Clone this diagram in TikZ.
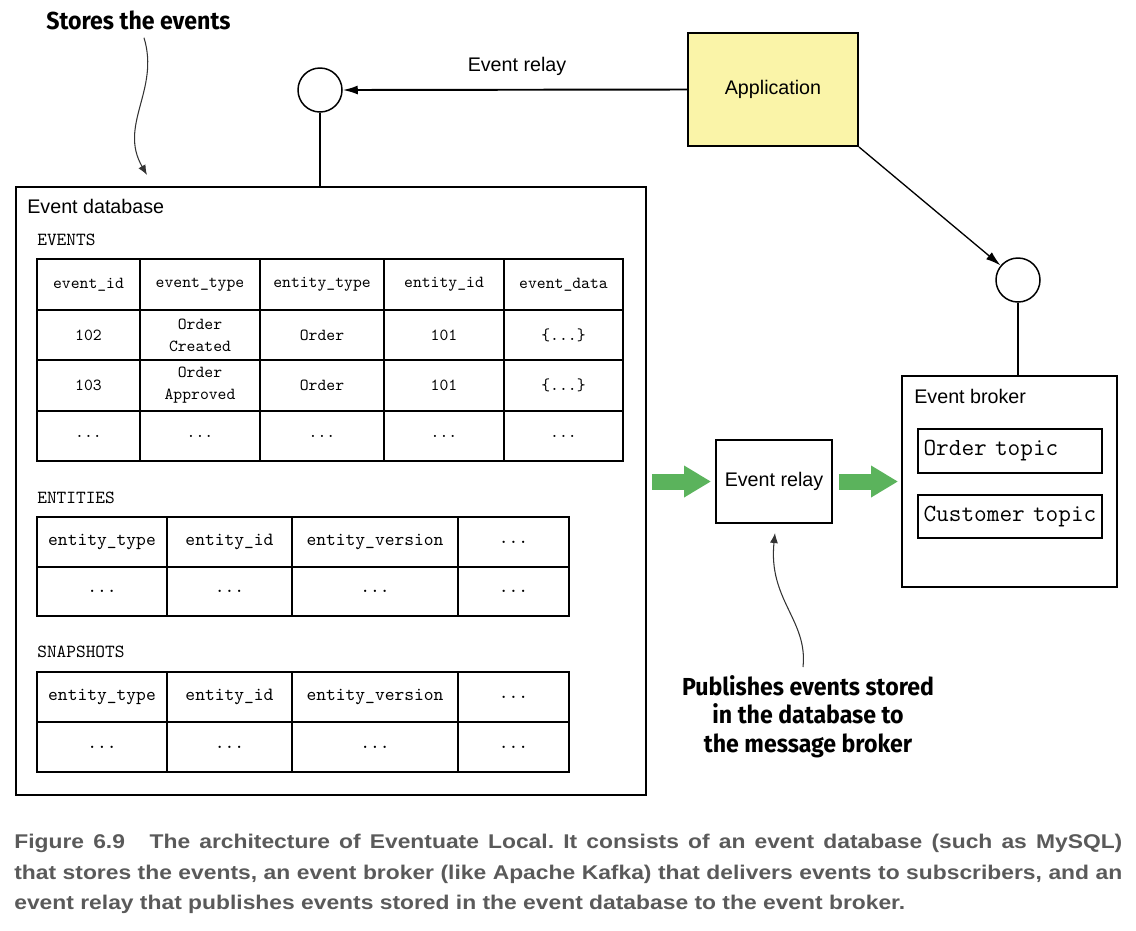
\documentclass[tikz,border=0pt]{standalone}
\usepackage{fontspec}
\setmainfont{Liberation Sans}
\newfontfamily\annotfont[FakeStretch=0.94]{Fira Sans}
\newfontfamily\capfont[FakeStretch=1.15]{Liberation Sans}
\usetikzlibrary{arrows.meta}
\tikzset{>=latex}
\definecolor{appyellow}{HTML}{FAF4A8}
\definecolor{relaygreen}{HTML}{5BB35C}
\definecolor{capgray}{HTML}{5A5A5A}
\definecolor{annotgray}{HTML}{333333}
\newcommand{\celldots}{...}
\newcommand{\capline}[1]{\makebox[221.6mm][s]{#1}}
\frenchspacing
\tikzset{box/.style={draw,line width=1.1pt,inner sep=0pt,font=\fontsize{11.2pt}{13.4pt}\selectfont},
  boxtitle/.style={inner sep=0pt,anchor=base west,font=\fontsize{11.2pt}{13.4pt}\selectfont},
  tablename/.style={inner sep=0pt,anchor=base west,font=\fontsize{10.5pt}{12pt}\ttfamily},
  hole/.style={circle,draw,line width=0.85pt,minimum size=8.8mm,inner sep=0pt},
  cell/.style={draw,line width=1.1pt,align=center,inner sep=0pt,font=\fontsize{9.6pt}{12.6pt}\ttfamily},
  bigcell/.style={cell,font=\fontsize{10.6pt}{12.6pt}\ttfamily},
  topic/.style={draw,line width=1.1pt,minimum width=36.8mm,text width=34.6mm,inner xsep=1.1mm,inner ysep=0pt,align=left,font=\fontsize{14pt}{15pt}\ttfamily},
  link/.style={line width=1.1pt},
  linkarrow/.style={line width=1.1pt,-{Latex[length=3mm,width=1.8mm]}},
  thinarrow/.style={line width=0.75pt,-{Latex[length=3mm,width=1.8mm]}},
  bigarrow/.style={draw=relaygreen,line width=3.2mm,-{Triangle[length=5.4mm,width=6mm]}},
  annot/.style={inner sep=0pt,align=center,font=\fontsize{14pt}{16.2pt}\annotfont\bfseries},
  annotarrow/.style={draw=annotgray,line width=0.6pt,-{Latex[length=2mm,width=1.6mm]}},
  captext/.style={inner sep=0pt,align=left,text=capgray,font=\fontsize{11.3pt}{17.3pt}\capfont\bfseries}}
\begin{document}
\begin{tikzpicture}[x=0.2mm,y=-0.2mm]
\useasboundingbox (0,0) rectangle (1136,930);

\node[box,minimum width=126mm,minimum height=121.6mm] (db) at (331,491) {};
\node[boxtitle] (dbname) at (27,213) {Event database};
\node[tablename] (eventsname) at (37,245) {EVENTS};
\node[tablename] (entitiesname) at (37,503) {ENTITIES};
\node[tablename] (snapshotsname) at (37,657) {SNAPSHOTS};

\foreach \x/\w/\a/\b/\c [count=\i] in {88.5/20.6/event\_id/102/103,
    200/24/event\_type/{Order\\Created}/{Order\\Approved},
    322/24.8/entity\_type/Order/Order,
    444/24/entity\_id/101/101,
    563.5/23.8/event\_data/{\{\celldots\}}/{\{\celldots\}}}
{
  \node[cell,minimum width=\w mm,minimum height=10.2mm] (ev\i a) at (\x,284.5) {\a};
  \node[cell,minimum width=\w mm,minimum height=10mm] (ev\i b) at (\x,335) {\b};
  \node[cell,minimum width=\w mm,minimum height=10.2mm] (ev\i c) at (\x,385.5) {\c};
  \node[cell,minimum width=\w mm,minimum height=10mm] (ev\i d) at (\x,436) {\celldots};
}

\foreach \x/\w/\a [count=\i] in {102/26/entity\_type, 229.5/25/entity\_id,
    375/33.2/entity\_version, 513.5/22.2/\celldots}
{
  \node[bigcell,minimum width=\w mm,minimum height=10mm] (en\i a) at (\x,542) {\a};
  \node[bigcell,minimum width=\w mm,minimum height=9.8mm] (en\i b) at (\x,591.5) {\celldots};
  \node[bigcell,minimum width=\w mm,minimum height=10mm] (sn\i a) at (\x,697) {\a};
  \node[bigcell,minimum width=\w mm,minimum height=10mm] (sn\i b) at (\x,747) {\celldots};
}

\node[box,fill=appyellow,minimum width=34mm,minimum height=22.6mm] (app) at (773,89.5) {Application};
\node[hole] (dbhole) at (320,90) {};
\node[hole] (brokerhole) at (1018,280) {};
\node[boxtitle,anchor=center] (relaylabel) at (517,66) {Event relay};

\node[box,minimum width=23.2mm,minimum height=16.6mm] (relay) at (774,481.5) {Event relay};
\node[box,minimum width=43mm,minimum height=42.2mm] (broker) at (1009.5,481.5) {};
\node[boxtitle] (brokername) at (914,403) {Event broker};
\node[topic,minimum height=8.8mm] (ordertopic) at (1010,451) {Order topic};
\node[topic,minimum height=8.6mm] (customertopic) at (1010,516.5) {Customer topic};

\draw[linkarrow] (app.west) -- (dbhole.east);
\draw[link] (dbhole.south) -- (dbhole.south |- db.north);
\draw[thinarrow] (app.south east) -- (brokerhole);
\draw[link] (brokerhole.south) -- (brokerhole.south |- broker.north);

\draw[bigarrow,shorten <=1mm,shorten >=0.8mm] (db.east |- relay) -- (relay.west);
\draw[bigarrow,shorten <=1.2mm,shorten >=0.6mm] (relay.east) -- (broker.west);

\node[annot,anchor=base] (stores) at (138.5,29) {Stores the events};
\coordinate (dbtip) at (147,175);
\draw[annotarrow] ([shift={(5.5,8)}]stores.south) .. controls (160,90) and (118,125) .. (dbtip);

\node[annot,anchor=north] (publishes) at (808,675) {Publishes events stored\\in the database to\\the message broker};
\coordinate (relaytip) at (775,533);
\draw[annotarrow] ([shift={(-5,-8)}]publishes.north) .. controls (808,620) and (768,600) .. (relaytip);

\node[captext,anchor=north west] (caption) at (14,834) {\capline{Figure 6.9\hspace{14pt}The architecture of Eventuate Local. It consists of an event database (such as MySQL)}\\
\capline{that stores the events, an event broker (like Apache Kafka) that delivers events to subscribers, and an}\\
event relay that publishes events stored in the event database to the event broker.};
\end{tikzpicture}
\end{document}
